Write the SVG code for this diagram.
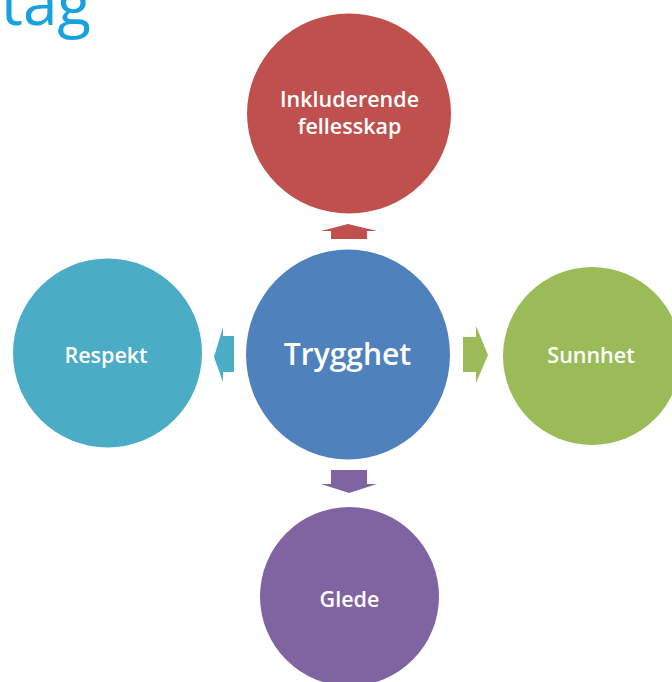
<svg xmlns="http://www.w3.org/2000/svg" width="672" height="682" viewBox="0 0 672 682">
<style>
.lbl{font-family:"Open Sans","Noto Sans","Liberation Sans",sans-serif;fill:#ffffff;text-anchor:middle;font-weight:600;font-size:21.5px}
.big{font-size:30px;font-weight:600}
.title{font-family:"Open Sans","Noto Sans","Liberation Sans",sans-serif;fill:#16A2DE;font-weight:400;font-size:62px}
</style>
<rect width="672" height="682" fill="#ffffff"/>
<text class="title" x="91" y="25" text-anchor="end">tag</text>
<g id="connectors">
<polygon fill="#C0504D" points="331,239 331,231 321,231 348,224 377,231 367,231 367,239"/>
<polygon fill="#4BACC6" points="234,336 223,336 223,327 214,357 223,382 223,372 234,372"/>
<polygon fill="#9BBB59" points="463,337 476,337 476,326 488,355 476,383 476,372 463,372"/>
<polygon fill="#8064A2" points="331,470 367,470 367,484 377,484 349,493 321,484 331,484"/>
</g>
<g id="node-top">
<ellipse cx="349" cy="113.5" rx="102" ry="100" fill="#C0504D"/>
<text class="lbl" x="349.5" y="107">Inkluderende</text>
<text class="lbl" x="349.5" y="134">fellesskap</text>
</g>
<g id="node-center">
<ellipse cx="348" cy="354.5" rx="102" ry="105" fill="#4F81BD"/>
<text class="lbl big" x="347.5" y="365">Trygghet</text>
</g>
<g id="node-left">
<circle cx="107.5" cy="353" r="94.5" fill="#4BACC6"/>
<text class="lbl" x="106" y="363">Respekt</text>
</g>
<g id="node-right">
<circle cx="592" cy="356" r="89" fill="#9BBB59"/>
<text class="lbl" x="591" y="363">Sunnhet</text>
</g>
<g id="node-bottom">
<circle cx="349.5" cy="596.5" r="89.5" fill="#8064A2"/>
<text class="lbl" x="349.5" y="607">Glede</text>
</g>
</svg>
